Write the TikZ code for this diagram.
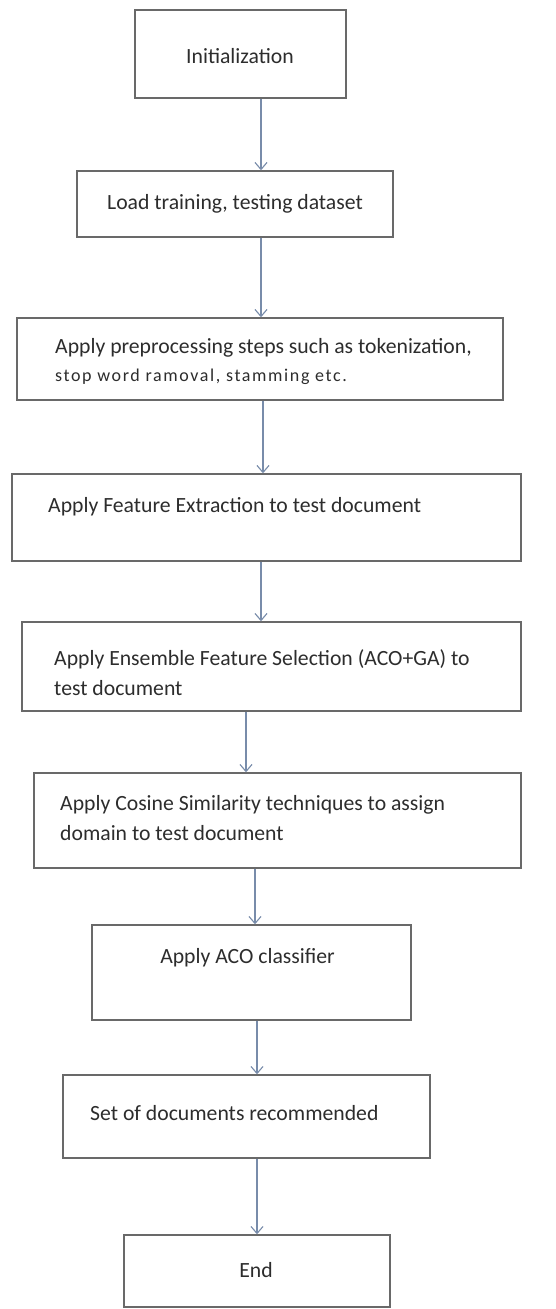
\documentclass[tikz,border=0pt]{standalone}
\usepackage{fontspec}
\setmainfont{Carlito}
\usetikzlibrary{arrows.meta}
\definecolor{boxgray}{RGB}{105,105,105}
\definecolor{arrblue}{RGB}{120,140,170}
\definecolor{txt}{RGB}{45,45,45}
\begin{document}
\begin{tikzpicture}[x=1pt,y=-1pt,
  stepbox/.style={draw=boxgray,line width=1.4pt,inner sep=0pt,fill=none},
  lbl/.style={text=txt,font=\fontsize{21.7}{26}\selectfont,inner sep=0pt,text height=15pt,text depth=4.5pt},
  lblsm/.style={text=txt,font=\fontsize{18}{22}\selectfont\addfontfeatures{LetterSpace=9},inner sep=0pt,text height=13pt,text depth=4pt},
  arr/.style={draw=arrblue,line width=1.3pt,-{Straight Barb[length=7pt,width=12pt,line width=1.1pt]}}]
\useasboundingbox (0,0) rectangle (556,1309);
\fill[white] (0,0) rectangle (556,1309);
% boxes
\node[stepbox,minimum width=211pt,minimum height=88pt] (b1) at (240.5,54) {};
\node[stepbox,minimum width=316pt,minimum height=66pt] (b2) at (235,204) {};
\node[stepbox,minimum width=486pt,minimum height=82pt] (b3) at (260,359) {};
\node[stepbox,minimum width=509pt,minimum height=87pt] (b4) at (266.5,517.5) {};
\node[stepbox,minimum width=499pt,minimum height=89pt] (b5) at (271.5,666.5) {};
\node[stepbox,minimum width=487pt,minimum height=95pt] (b6) at (277.5,820.5) {};
\node[stepbox,minimum width=319pt,minimum height=95pt] (b7) at (251.5,972.5) {};
\node[stepbox,minimum width=367pt,minimum height=83pt] (b8) at (246.5,1116.5) {};
\node[stepbox,minimum width=266pt,minimum height=72pt] (b9) at (257,1271) {};
% texts
\node[lbl] (t1) at (240,58) {Initialization};
\node[lbl] (t2) at (235,204) {Load training, testing dataset};
\node[lbl,anchor=west] (t3a) at (55,348) {Apply preprocessing steps such as tokenization,};
\node[lblsm,anchor=west] (t3b) at (55,377) {stop word ramoval, stamming etc.};
\node[lbl,anchor=west] (t4) at (48,507) {Apply Feature Extraction to test document};
\node[lbl,anchor=west] (t5a) at (54,660) {Apply Ensemble Feature Selection (ACO+GA) to};
\node[lbl,anchor=west] (t5b) at (54,690) {test document};
\node[lbl,anchor=west] (t6a) at (60,805) {Apply Cosine Similarity techniques to assign};
\node[lbl,anchor=west] (t6b) at (60,835) {domain to test document};
\node[lbl] (t7) at (247.5,958) {Apply ACO classifier};
\node[lbl,anchor=west] (t8) at (90,1115) {Set of documents recommended};
\node[lbl] (t9) at (256,1272) {End};
% arrow x positions
\coordinate (x1) at (261,0);
\coordinate (x2) at (261,0);
\coordinate (x3) at (263,0);
\coordinate (x4) at (261,0);
\coordinate (x5) at (246,0);
\coordinate (x6) at (255,0);
\coordinate (x7) at (257,0);
\coordinate (x8) at (257,0);
\draw[arr] (b1.south -| x1) -- (b2.north -| x1);
\draw[arr] (b2.south -| x2) -- (b3.north -| x2);
\draw[arr] (b3.south -| x3) -- (b4.north -| x3);
\draw[arr] (b4.south -| x4) -- (b5.north -| x4);
\draw[arr] (b5.south -| x5) -- (b6.north -| x5);
\draw[arr] (b6.south -| x6) -- (b7.north -| x6);
\draw[arr] (b7.south -| x7) -- (b8.north -| x7);
\draw[arr] (b8.south -| x8) -- (b9.north -| x8);
\end{tikzpicture}
\end{document}
